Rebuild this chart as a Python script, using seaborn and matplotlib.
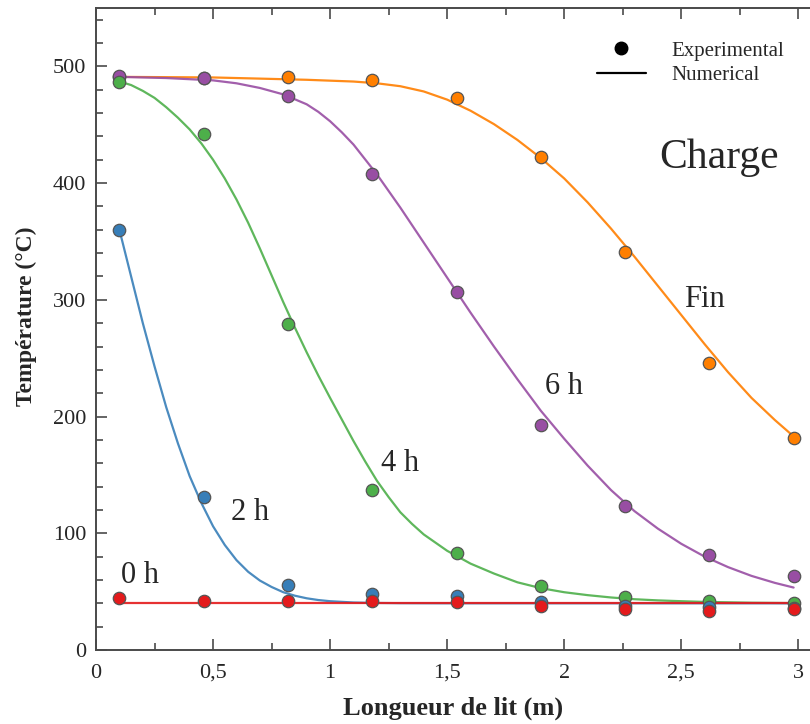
import numpy as np
import pandas as pd
import matplotlib
matplotlib.use('Agg')
import matplotlib.pyplot as plt
import seaborn as sns
from matplotlib.lines import Line2D
from matplotlib.ticker import MultipleLocator, FuncFormatter

# experimental points (position along the bed, m)
x_exp = [0.1, 0.46, 0.82, 1.18, 1.54, 1.90, 2.26, 2.62, 2.98]
exp_0h = [44.5, 42, 42, 42, 41, 38, 35, 33.5, 35]
exp_2h = [360, 131, 56, 48, 46, 41, 37.5, 37, 36]
exp_4h = [487, 442, 279, 137, 83, 55, 45.5, 42, 40.5]
exp_6h = [492, 490, 475, 408, 307, 193, 123, 81, 63]
exp_fin = [491, 490, 491, 488, 473, 422, 341, 246, 182]

# numerical curves
num_0h_x = [0.1, 2.98]
num_0h = [40, 40]
num_2h_x = [0.1, 0.15, 0.2, 0.25, 0.3, 0.35, 0.4, 0.45, 0.5, 0.55, 0.6, 0.65, 0.7,
            0.75, 0.8, 0.85, 0.9, 0.95, 1.0, 1.1, 1.2, 1.3, 1.5, 2.0, 2.5, 2.98]
num_2h = [360, 320, 280, 243, 208, 177, 149, 126, 106, 90, 77, 67, 59.5,
          54, 49.5, 46.5, 44.3, 42.8, 41.8, 40.7, 40.3, 40.1, 40, 40, 40, 40]
num_4h_x = [0.1, 0.15, 0.2, 0.25, 0.3, 0.35, 0.4, 0.45, 0.5, 0.55, 0.6, 0.65, 0.7,
            0.75, 0.8, 0.85, 0.9, 0.95, 1.0, 1.05, 1.1, 1.15, 1.2, 1.25, 1.3, 1.35,
            1.4, 1.5, 1.6, 1.7, 1.8, 1.9, 2.0, 2.1, 2.2, 2.3, 2.4, 2.5, 2.6, 2.8, 2.98]
num_4h = [487, 484, 479, 473, 465, 456, 446, 434, 420, 404, 386, 366, 344,
          321, 298, 276, 255, 235, 216, 197.5, 179, 161.5, 145, 131, 118, 108,
          99, 85, 74, 65.5, 58, 53, 49.5, 47, 45, 43.5, 42.5, 41.8, 41.2, 40.5, 40.2]
num_6h_x = [0.1, 0.3, 0.5, 0.6, 0.7, 0.8, 0.9, 0.95, 1.0, 1.05, 1.1, 1.2, 1.3, 1.4,
            1.5, 1.6, 1.7, 1.8, 1.9, 2.0, 2.1, 2.2, 2.3, 2.4, 2.5, 2.6, 2.7, 2.8,
            2.9, 2.98]
num_6h = [491, 490, 488, 485.5, 481.5, 476, 467.5, 461, 453, 443.5, 433, 407.5, 379,
          349, 319, 289, 260, 232, 205, 181, 158, 137, 119, 104, 91, 80, 71, 63.5,
          57.5, 53.5]
num_fin_x = [0.1, 0.5, 0.7, 0.9, 1.1, 1.2, 1.3, 1.4, 1.5, 1.6, 1.7, 1.8, 1.9, 2.0,
             2.1, 2.2, 2.3, 2.4, 2.5, 2.6, 2.7, 2.8, 2.9, 2.98]
num_fin = [491, 490.5, 489.5, 488.5, 487, 485.5, 483, 478.5, 471.5, 462, 450.5, 437,
           421.5, 404, 383.5, 361, 337, 312, 287, 262, 238, 216, 197, 183]

labels = ['Fin', '6 h', '4 h', '2 h', '0 h']
colors = ['#ff7f00', '#984ea3', '#4daf4a', '#377eb8', '#e41a1c']
label_x = [2.60, 2.00, 1.30, 0.66, 0.19]
label_y = [294, 219, 153, 111, 57]

exp_series = [exp_fin, exp_6h, exp_4h, exp_2h, exp_0h]
num_series = [(num_fin_x, num_fin), (num_6h_x, num_6h), (num_4h_x, num_4h),
              (num_2h_x, num_2h), (num_0h_x, num_0h)]

sns.set_style('ticks')
plt.rcParams['font.family'] = ['Liberation Serif', 'DejaVu Serif']

fig = plt.figure(figsize=(8.1, 7.24), dpi=100)
ax = fig.add_axes([96/810, 74/724, 1 - 96/810, 642/724])

for (nx, ny), c in zip(num_series, colors):
    num_df = pd.DataFrame({'x': nx, 'T': ny})
    sns.lineplot(data=num_df, x='x', y='T', color=c, lw=1.6, alpha=0.9, ax=ax,
                 zorder=2)

for ey, c in zip(exp_series, colors):
    exp_df = pd.DataFrame({'x': x_exp, 'T': ey})
    sns.scatterplot(data=exp_df, x='x', y='T', color=c, s=80, edgecolor='#555555',
                    linewidth=0.9, ax=ax, zorder=3)

for lab, lx, ly in zip(labels, label_x, label_y):
    ax.text(lx, ly, lab, fontsize=22, ha='center', va='baseline')
ax.text(2.662, 413, 'Charge', fontsize=30, ha='center', va='baseline')

ax.set_xlim(0, 3.05)
ax.set_ylim(0, 550)
ax.xaxis.set_major_locator(MultipleLocator(0.5))
ax.xaxis.set_minor_locator(MultipleLocator(0.25))
ax.yaxis.set_major_locator(MultipleLocator(100))
ax.yaxis.set_minor_locator(MultipleLocator(20))
ax.xaxis.set_major_formatter(FuncFormatter(lambda v, p: ('%g' % v).replace('.', ',')))

spine_c = '#4a4a4a'
for side in ['left', 'bottom', 'top']:
    ax.spines[side].set_color(spine_c)
    ax.spines[side].set_linewidth(1.4)
ax.spines['right'].set_visible(False)
ax.tick_params(which='both', direction='in', top=True, right=False, color=spine_c,
               labelsize=16, width=1.2)
ax.tick_params(which='major', length=8)
ax.tick_params(which='minor', length=5)
ax.tick_params(axis='x', pad=10)
ax.tick_params(axis='y', pad=7)

ax.set_xlabel('Longueur de lit (m)', fontsize=19, fontweight='bold', labelpad=10)
ax.set_ylabel('Température (°C)', fontsize=17, fontweight='bold', labelpad=10)
ax.yaxis.set_label_coords(-0.083, 0.52)

handles = [Line2D([], [], marker='o', color='black', linestyle='None', markersize=9),
           Line2D([], [], color='black', lw=1.6)]
fig.legend(handles, ['Experimental', 'Numerical'], loc='upper left',
           bbox_to_anchor=(597/810, 1 - 41/724), frameon=False, fontsize=15,
           borderpad=0, borderaxespad=0, handlelength=2.35, handletextpad=1.2,
           labelspacing=0.25)

fig.savefig('out.png', dpi=100)
